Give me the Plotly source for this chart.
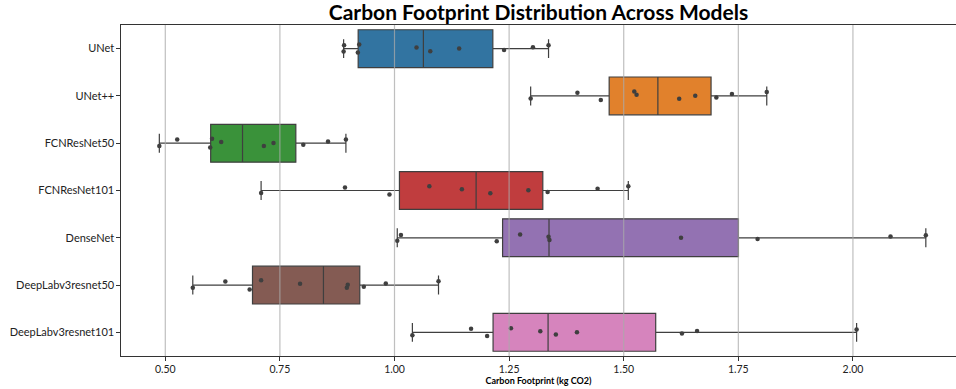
import numpy as np
import plotly.graph_objects as go

MODELS = ["UNet", "UNet++", "FCNResNet50", "FCNResNet101", "DenseNet",
          "DeepLabv3resnet50", "DeepLabv3resnet101"]

UNET = [0.889, 0.890, 0.920, 0.923, 1.048, 1.078, 1.141, 1.239, 1.302, 1.336]
UNETPP = [1.297, 1.399, 1.450, 1.523, 1.528, 1.621, 1.656, 1.702, 1.736, 1.812]
FCN50 = [0.487, 0.526, 0.598, 0.602, 0.622, 0.715, 0.736, 0.801, 0.855, 0.894]
FCN101 = [0.709, 0.892, 0.989, 1.076, 1.147, 1.209, 1.292, 1.334, 1.443, 1.510]
DENSENET = [1.006, 1.014, 1.223, 1.274, 1.336, 1.338, 1.625, 1.792, 2.082, 2.159]
DLV3_50 = [0.560, 0.631, 0.684, 0.709, 0.794, 0.896, 0.898, 0.933, 0.981, 1.096]
DLV3_101 = [1.039, 1.167, 1.202, 1.254, 1.318, 1.352, 1.398, 1.627, 1.660, 2.008]

SERIES = [UNET, UNETPP, FCN50, FCN101, DENSENET, DLV3_50, DLV3_101]
COLORS = ["#3274a1", "#e1812c", "#3a923a", "#c03d3e", "#9372b2", "#845b53", "#d684bd"]
TICK_VALS = [0.5, 0.75, 1.0, 1.25, 1.5, 1.75, 2.0]
TICK_TEXT = ["0.50", "0.75", "1.00", "1.25", "1.50", "1.75", "2.00"]

EDGE = "#3f3f3f"
FONT = "Lato"

fig = go.Figure()

for name, vals, col in zip(MODELS, SERIES, COLORS):
    arr = np.array(vals)
    q1, med, q3 = np.percentile(arr, [25, 50, 75])
    iqr = q3 - q1
    lo = arr[arr >= q1 - 1.5 * iqr].min()
    hi = arr[arr <= q3 + 1.5 * iqr].max()
    fig.add_trace(go.Box(
        y=[name], q1=[q1], median=[med], q3=[q3],
        lowerfence=[lo], upperfence=[hi],
        orientation="h", fillcolor=col,
        line=dict(color=EDGE, width=1.2),
        whiskerwidth=0.5, width=0.8, boxpoints=False,
        showlegend=False, hoverinfo="skip",
    ))

for name, vals in zip(MODELS, SERIES):
    fig.add_trace(go.Box(
        x=vals, y=[name] * len(vals), orientation="h",
        boxpoints="all", jitter=0.3, pointpos=0,
        fillcolor="rgba(0,0,0,0)", line=dict(color="rgba(0,0,0,0)", width=0),
        marker=dict(color=EDGE, size=4.5),
        width=0.8, showlegend=False,
    ))

for tv in TICK_VALS:
    fig.add_shape(type="line", xref="x", yref="paper", x0=tv, x1=tv, y0=0, y1=1,
                  line=dict(color="rgba(170,170,170,0.75)", width=1.2), layer="above")

fig.update_layout(
    width=956, height=389,
    margin=dict(l=121, r=0, t=25, b=33),
    paper_bgcolor="white", plot_bgcolor="white",
    boxmode="overlay",
    title=dict(text="<b>Carbon Footprint Distribution Across Models</b>",
               x=(121 + 956) / 2 / 956, xanchor="center",
               yref="container", y=1 - 13 / 389, yanchor="middle", automargin=False,
               font=dict(family=FONT, size=21, color="black")),
    font=dict(family=FONT, color="#222"),
)
fig.update_xaxes(
    automargin=False,
    range=[0.4034, 2.2248], tickvals=TICK_VALS, ticktext=TICK_TEXT,
    showgrid=False, zeroline=False,
    showline=True, linecolor="#333", linewidth=1.2, mirror=True,
    ticks="outside", ticklen=3.5, tickcolor="#333",
    tickfont=dict(size=10.5, color="#222"),
    title=dict(text="<b>Carbon Footprint (kg CO2)</b>", font=dict(size=9, color="black"), standoff=2),
)
fig.update_yaxes(
    automargin=False,
    categoryorder="array", categoryarray=MODELS, range=[6.5, -0.5],
    showgrid=False, zeroline=False,
    showline=True, linecolor="#333", linewidth=1.2,
    ticks="outside", ticklen=3.5, tickcolor="#333",
    tickfont=dict(size=11, color="#222"),
)

fig.write_html(
    "out.html",
    config={"displayModeBar": False},
    post_script="document.body.style.margin='0';document.body.style.overflow='hidden';",
)
